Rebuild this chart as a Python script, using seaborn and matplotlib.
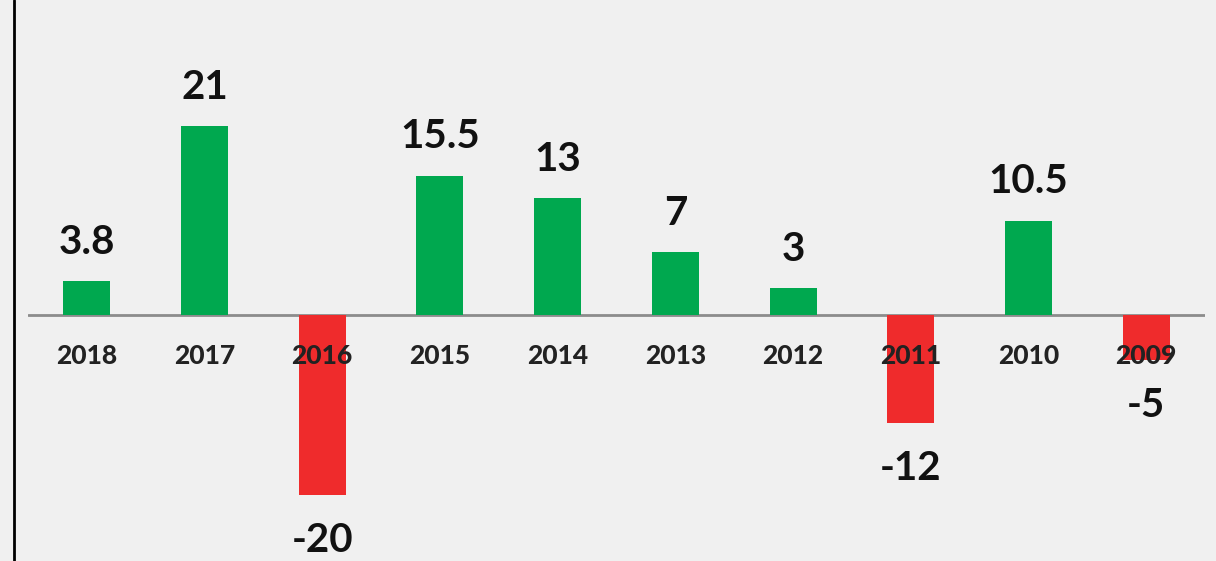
import matplotlib
matplotlib.use('Agg')
import matplotlib.pyplot as plt
from matplotlib.lines import Line2D
import numpy as np
import pandas as pd
import seaborn as sns

# Data
years = ['2018', '2017', '2016', '2015', '2014', '2013', '2012', '2011', '2010', '2009']
values = [3.8, 21, -20, 15.5, 13, 7, 3, -12, 10.5, -5]
value_labels = ['3.8', '21', '-20', '15.5', '13', '7', '3', '-12', '10.5', '-5']

BG = '#f0f0f0'
GREEN = '#00a84f'
RED = '#ef2b2c'

sns.set_theme(style='white')
plt.rcParams['font.family'] = ['Lato', 'DejaVu Sans']

df = pd.DataFrame({'Year': years, 'Value': values})
df['Sign'] = np.where(df['Value'] >= 0, 'pos', 'neg')

fig = plt.figure(figsize=(12.16, 5.61), dpi=100, facecolor=BG)
ax = fig.add_axes([28 / 1216, 0, (1205 - 28) / 1216, 1])
ax.set_facecolor(BG)

sns.barplot(data=df, x='Year', y='Value', hue='Sign', order=years, palette={'pos': GREEN, 'neg': RED},
            dodge=False, width=0.4, legend=False, saturation=1, linewidth=0, ax=ax, zorder=2)

ax.set_xlim(-0.5, len(years) - 0.5)
ax.set_ylim(-27.3, 35)
ax.axhline(0, color='#8c8c8c', linewidth=2, zorder=1)

# Category labels sit just under the zero line, above the bars
for ind, year in enumerate(years):
    ax.text(ind, -4.55, year, ha='center', va='center', fontsize=19, fontweight='black', color='#222222', zorder=5)

# Value labels
for ind, (val, lab) in enumerate(zip(values, value_labels)):
    ypos = val + 4.3 if val >= 0 else val - 5.0
    ax.text(ind, ypos, lab, ha='center', va='center', fontsize=29, fontweight='bold', color='#111111', zorder=5)

ax.set_xlabel('')
ax.set_ylabel('')
ax.set_xticks([])
ax.set_yticks([])
for spine in ax.spines.values():
    spine.set_visible(False)

# Left frame line
fig.add_artist(Line2D([13.5 / 1216, 13.5 / 1216], [0, 1], transform=fig.transFigure, color='black', linewidth=2))

fig.savefig('out.png', dpi=100, facecolor=BG)
